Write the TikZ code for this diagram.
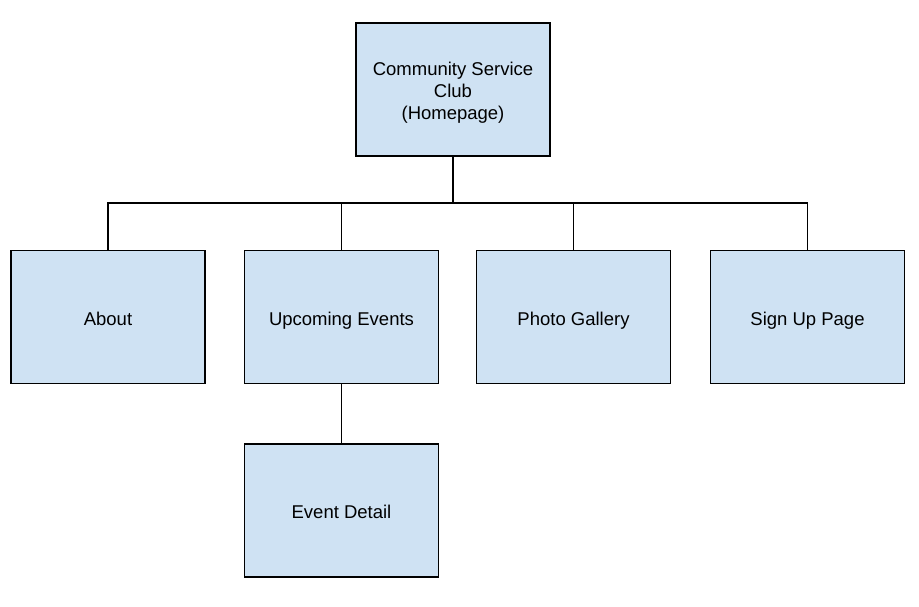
\documentclass[tikz,border=0pt]{standalone}
\usepackage{fontspec}
\setmainfont{Liberation Sans}
\definecolor{boxfill}{HTML}{CFE2F3}
\begin{document}
\begin{tikzpicture}[x=1pt,y=-1pt,
  pagebox/.style={draw=black,line width=1.3pt,fill=boxfill,minimum width=194pt,minimum height=133pt,inner sep=0pt,align=center,text height=20pt,text depth=4pt,font=\fontsize{18.5}{21.8}\selectfont},
  link/.style={draw=black,line width=1.3pt}]
\useasboundingbox (0,0) rectangle (919,607);
\node[pagebox,text height=63.6pt] (home) at (453,89.5) {Community Service\\Club\\(Homepage)};
\node[pagebox] (about) at (108,317) {About};
\node[pagebox] (events) at (341.5,317) {Upcoming Events};
\node[pagebox] (photo) at (573.5,317) {Photo Gallery};
\node[pagebox] (signup) at (807.5,317) {Sign Up Page};
\node[pagebox] (detail) at (341.5,510.5) {Event Detail};
\coordinate (bus) at (453,203);
\draw[link,line width=2.2pt] (home.south) -- (bus);
\draw[link] (about.north) |- (bus) -| (signup.north);
\draw[link] (events.north) -- (events.north |- bus);
\draw[link] (photo.north) -- (photo.north |- bus);
\draw[link] (events.south) -- (detail.north);
\end{tikzpicture}
\end{document}
